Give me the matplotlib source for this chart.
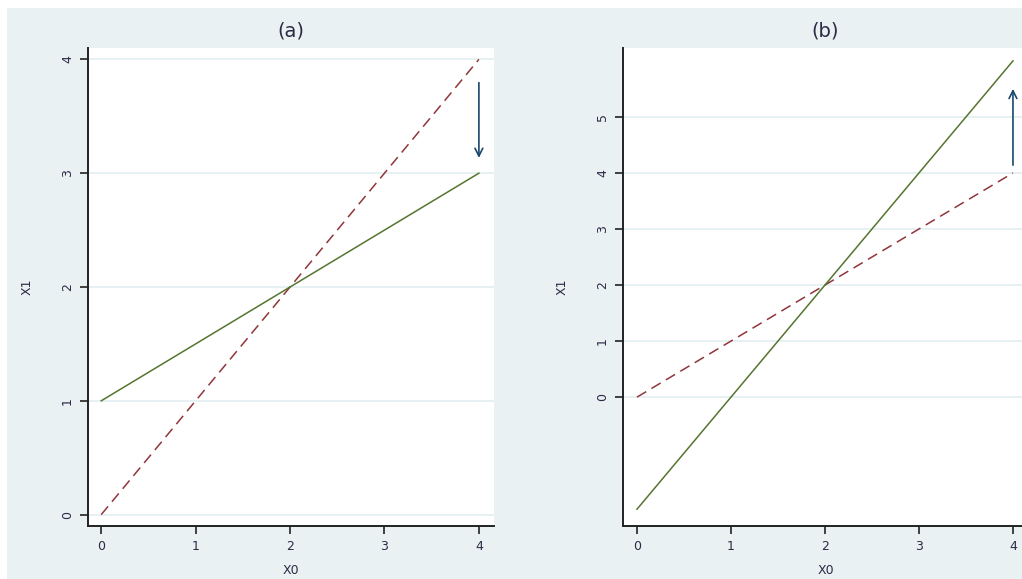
import matplotlib
matplotlib.use("Agg")
import matplotlib.pyplot as plt
from matplotlib.patches import Rectangle

# data
x0 = [0, 4]
a_red = [0, 4]
a_green = [1, 3]
b_red = [0, 4]
b_green = [-2, 6]

a_yticks = [0, 1, 2, 3, 4]
b_yticks = [0, 1, 2, 3, 4, 5]
xticks = [0, 1, 2, 3, 4]

# arrows: (x, y_start, y_end)
a_arrow = (4, 3.82, 3.11)
b_arrow = (4, 4.09, 5.55)

bg = "#e9f1f3"
grid_col = "#e3edf1"
red = "#90353b"
green = "#55752f"
navy = "#1a476f"
txt = "#2b2b45"

fig = plt.figure(figsize=(10.22, 5.79), dpi=100)
fig.patch.set_facecolor("white")
fig.patches.append(Rectangle((7 / 1022, 0), 1, 1 - 8 / 579, transform=fig.transFigure,
                             facecolor=bg, edgecolor="none", zorder=-10))

ax1 = fig.add_axes([88 / 1022, 1 - 526 / 579, 406 / 1022, 478 / 579])
ax2 = fig.add_axes([623 / 1022, 1 - 526 / 579, 405 / 1022, 478 / 579])


def style(ax, yticks, ylim, xlim):
    ax.set_facecolor("white")
    ax.set_xlim(xlim)
    ax.set_ylim(ylim)
    ax.set_xticks(xticks)
    ax.set_yticks(yticks)
    for s in ["top", "right"]:
        ax.spines[s].set_visible(False)
    for s in ["left", "bottom"]:
        ax.spines[s].set_color("#222222")
        ax.spines[s].set_linewidth(1.4)
    ax.tick_params(direction="out", length=6, width=1.2, colors="#222222",
                   labelsize=9, labelcolor=txt, pad=4)
    for lab in ax.get_yticklabels():
        lab.set_rotation(90)
        lab.set_va("center")
    ax.yaxis.grid(True, color=grid_col, linewidth=1.2)
    ax.set_axisbelow(True)
    ax.set_xlabel("X0", fontsize=9, color=txt, labelpad=8)
    ax.set_ylabel("X1", fontsize=9, color=txt, labelpad=20)


style(ax1, a_yticks, (-0.1, 4.1), (-0.14, 4.16))
ax1.plot(x0, a_red, color=red, lw=1.1, dashes=(7, 4))
ax1.plot(x0, a_green, color=green, lw=1.1)
ax1.annotate("", xy=(a_arrow[0], a_arrow[2]), xytext=(a_arrow[0], a_arrow[1]),
             arrowprops=dict(arrowstyle="->", color=navy, lw=1.2, mutation_scale=14))
ax1.set_title("(a)", fontsize=14, color=txt, pad=8)

style(ax2, b_yticks, (-2.3, 6.23), (-0.149, 4.16))
ax2.plot(x0, b_red, color=red, lw=1.1, dashes=(7, 4))
ax2.plot(x0, b_green, color=green, lw=1.1)
ax2.annotate("", xy=(b_arrow[0], b_arrow[2]), xytext=(b_arrow[0], b_arrow[1]),
             arrowprops=dict(arrowstyle="->", color=navy, lw=1.2, mutation_scale=14))
ax2.set_title("(b)", fontsize=14, color=txt, pad=8)

fig.savefig("out.png", dpi=100, facecolor=fig.get_facecolor())
